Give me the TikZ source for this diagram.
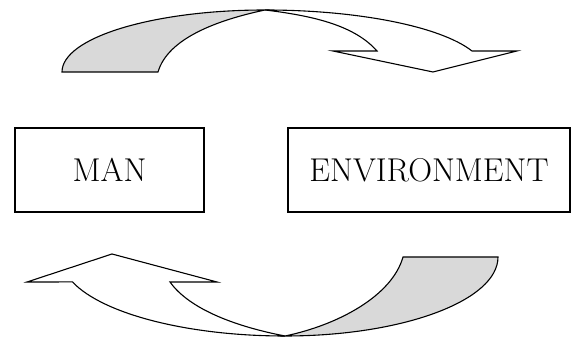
\documentclass[tikz,border=0pt]{standalone}
\begin{document}
\begin{tikzpicture}[x=1pt, y=1pt, line width=1.1pt, line join=miter,
  box/.style={draw, minimum width=#1, minimum height=84pt, inner sep=0pt,
    font=\fontsize{33}{38}\selectfont},
  back/.style={draw, fill=gray!30},
  front/.style={draw, fill=white}]
\useasboundingbox (0,0) rectangle (576,342);
% the two boxes
\node[box=189pt] (man) at (109.5,172) {MAN};
\node[box=282pt] (env) at (429,172) {ENVIRONMENT};
% upper curved arrow: shaded back part, then the front part with the head
\filldraw[back] (62,270) arc[start angle=180, end angle=90, x radius=203, y radius=62]
  .. controls (218,322) and (168,304) .. (158,270) -- cycle;
\filldraw[front] (265,332) arc[start angle=90, end angle=19.8, x radius=220, y radius=62]
  -- (517,291) -- (433,270) -- (333,291) -- (377,291)
  .. controls (355,316) and (315,326) .. (265,332) -- cycle;
% lower curved arrow, turned round
\filldraw[back] (498,85) arc[start angle=0, end angle=-90, x radius=213, y radius=79]
  .. controls (338,17) and (392,46) .. (403,85) -- cycle;
\filldraw[front] (285,6) arc[start angle=270, end angle=198.4, x radius=224, y radius=79]
  -- (27,60) -- (112,88) -- (217,60) -- (170,60)
  .. controls (190,32) and (238,15) .. (285,6) -- cycle;
\end{tikzpicture}
\end{document}
